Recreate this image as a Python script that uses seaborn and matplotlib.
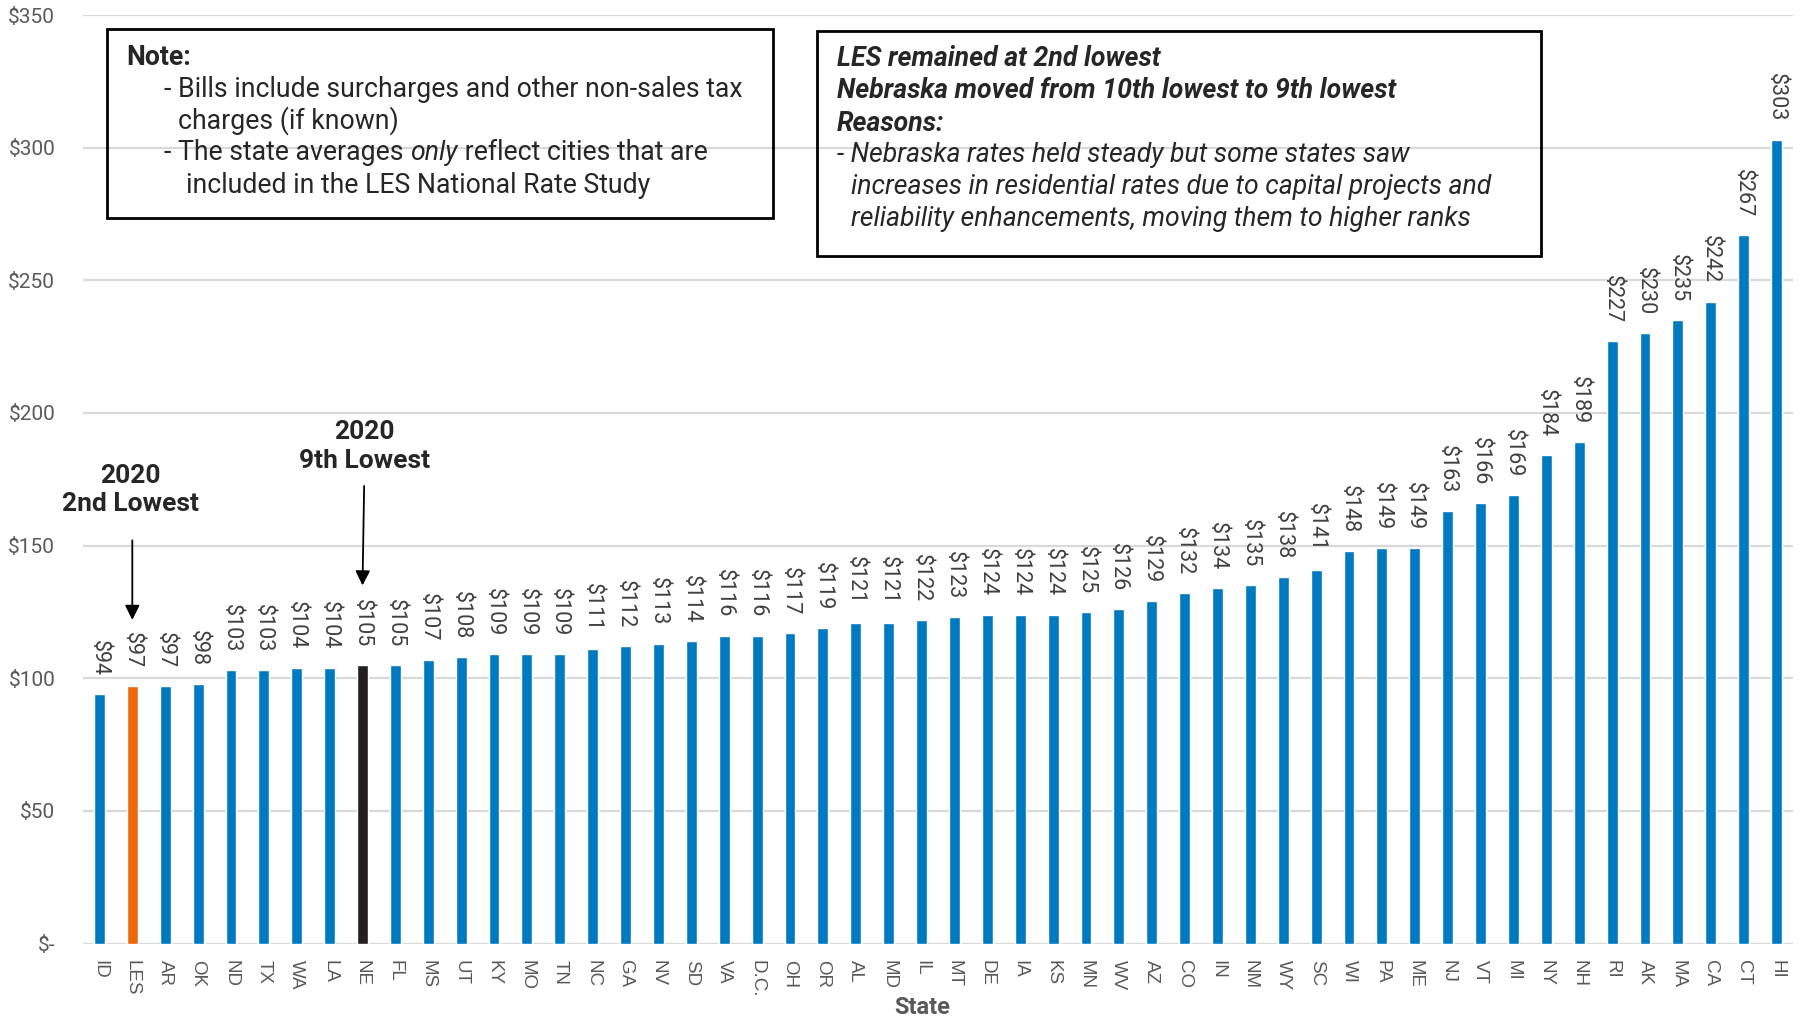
import matplotlib
matplotlib.use("Agg")
import matplotlib.pyplot as plt
import seaborn as sns
import pandas as pd
from matplotlib.patches import Rectangle

# data (monthly residential bill by state)
states = ["ID", "LES", "AR", "OK", "ND", "TX", "WA", "LA", "NE", "FL", "MS", "UT",
          "KY", "MO", "TN", "NC", "GA", "NV", "SD", "VA", "D.C.", "OH", "OR", "AL",
          "MD", "IL", "MT", "DE", "IA", "KS", "MN", "WV", "AZ", "CO", "IN", "NM",
          "WY", "SC", "WI", "PA", "ME", "NJ", "VT", "MI", "NY", "NH", "RI", "AK",
          "MA", "CA", "CT", "HI"]
bills = [94, 97, 97, 98, 103, 103, 104, 104, 105, 105, 107, 108,
         109, 109, 109, 111, 112, 113, 114, 116, 116, 117, 119, 121,
         121, 122, 123, 124, 124, 124, 125, 126, 129, 132, 134, 135,
         138, 141, 148, 149, 149, 163, 166, 169, 184, 189, 227, 230,
         235, 242, 267, 303]
y_ticks = [0, 50, 100, 150, 200, 250, 300, 350]
y_tick_labels = ["$-", "$50", "$100", "$150", "$200", "$250", "$300", "$350"]

bar_blue = "#0079C1"
highlight = {"LES": "#EA6A0C", "NE": "#231F20"}
grid_grey = "#D9D9D9"
text_grey = "#595959"

sns.set_style("white")
plt.rcParams["font.family"] = ["Roboto", "DejaVu Sans"]

df = pd.DataFrame({"State": states, "Bill": bills})
colors = [highlight.get(s, bar_blue) for s in states]

fig = plt.figure(figsize=(18, 10.21), dpi=100)
ax = fig.add_axes([0.0461, 0.0758, 0.95, 0.9095])

sns.barplot(data=df, x="State", y="Bill", hue="State", palette=colors,
            legend=False, width=0.33, saturation=1, ax=ax, zorder=3)

for c in ax.containers:
    ax.bar_label(c, fmt="${:.0f}", rotation=-90, padding=13,
                 fontsize=15.5, color="#404040")

ax.set_ylim(0, 350)
ax.set_xlim(-0.5, len(states) - 0.5)
ax.set_yticks(y_ticks)
ax.set_yticklabels(y_tick_labels, fontsize=15, color=text_grey)
ax.tick_params(axis="y", length=0, pad=20)
ax.tick_params(axis="x", length=0, pad=12)
for lbl in ax.get_xticklabels():
    lbl.set_rotation(-90)
    lbl.set_fontfamily("Liberation Sans")
    lbl.set_fontsize(13.5)
    lbl.set_color(text_grey)
ax.yaxis.grid(True, color=grid_grey, lw=1.6, zorder=0)
ax.set_axisbelow(True)
for s in ax.spines.values():
    s.set_visible(False)
ax.set_ylabel("")
ax.set_xlabel("State", fontsize=17, fontweight="bold", color=text_grey)
ax.xaxis.set_label_coords(0.491, -0.056)

# callouts for LES and Nebraska
arrow = dict(arrowstyle="-|>", color="black", lw=1.3, mutation_scale=22,
             shrinkA=0, shrinkB=0)
ax.annotate("", xy=(1, 122), xytext=(1, 152), arrowprops=arrow)
ax.text(0.95, 171, "2020\n2nd Lowest", ha="center", va="center",
        fontsize=19, fontweight="bold", linespacing=1.25)
ax.annotate("", xy=(8, 135), xytext=(8.05, 172.5), arrowprops=arrow)
ax.text(8.05, 187.5, "2020\n9th Lowest", ha="center", va="center",
        fontsize=19, fontweight="bold", linespacing=1.25)

# note boxes
W, H = 1800, 1021


def fx(px):
    return px / W


def fy(py):
    return 1 - (py + 2.5) / H


fig.add_artist(Rectangle((fx(107), 1 - 218 / H), fx(773) - fx(107), (218 - 29) / H,
                         transform=fig.transFigure, fill=False, lw=2, ec="black"))
fig.add_artist(Rectangle((fx(817), 1 - 256 / H), fx(1541) - fx(817), (256 - 31) / H,
                         transform=fig.transFigure, fill=False, lw=2, ec="black"))

fs = 19.2
fig.text(fx(126), fy(55), "Note:", fontsize=fs, fontweight="bold", va="center")
fig.text(fx(164), fy(87), "- Bills include surcharges and other non-sales tax",
         fontsize=fs, va="center")
fig.text(fx(178), fy(118), "charges (if known)", fontsize=fs, va="center")
t1 = fig.text(fx(164), fy(150), "- The state averages ", fontsize=fs, va="center")
t_only = ax.annotate("only", xy=(1, 0.5), xycoords=t1, fontsize=fs,
                     style="italic", va="center", ha="left")
ax.annotate(" reflect cities that are", xy=(1, 0.5), xycoords=t_only,
            fontsize=fs, va="center", ha="left")
fig.text(fx(186), fy(183), "included in the LES National Rate Study",
         fontsize=fs, va="center")

box2 = [
    (837, 56, "LES remained at 2nd lowest", "bold"),
    (837, 88, "Nebraska moved from 10th lowest to 9th lowest", "bold"),
    (837, 121, "Reasons:", "bold"),
    (837, 153, "- Nebraska rates held steady but some states saw", "normal"),
    (851, 185, "increases in residential rates due to capital projects and", "normal"),
    (851, 217, "reliability enhancements, moving them to higher ranks", "normal"),
]
for x, y, txt, wt in box2:
    fig.text(fx(x), fy(y), txt, fontsize=fs, fontweight=wt, style="italic",
             va="center")

fig.savefig("out.png", dpi=100)
